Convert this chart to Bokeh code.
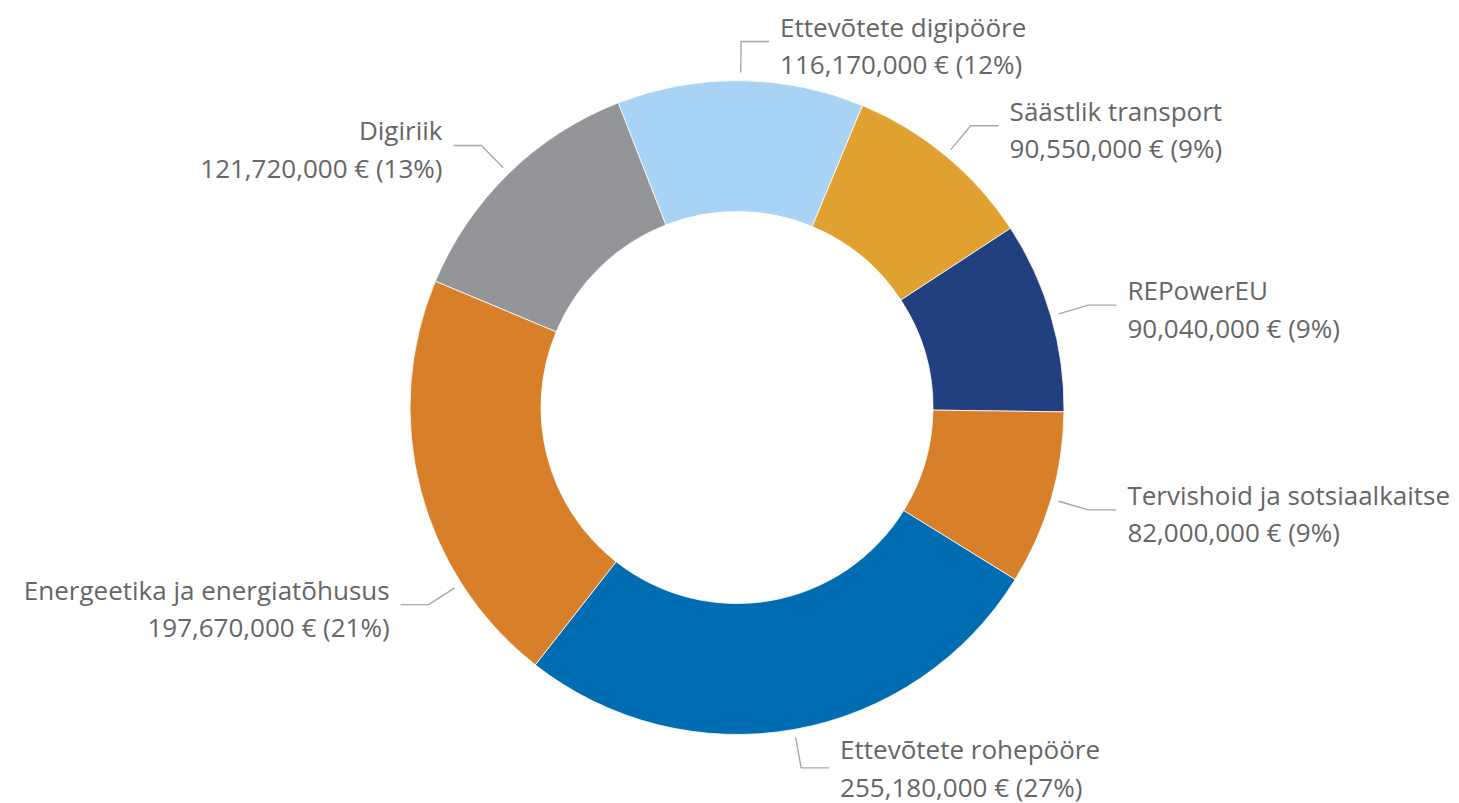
import math
from bokeh.plotting import figure
from bokeh.models import Range1d, ColumnDataSource
from bokeh.embed import file_html
from bokeh.resources import INLINE
from bokeh.core.properties import value

# ---------------- data ----------------
categories = [
    "Ettevõtete digipööre",
    "Säästlik transport",
    "REPowerEU",
    "Tervishoid ja sotsiaalkaitse",
    "Ettevõtete rohepööre",
    "Energeetika ja energiatõhusus",
    "Digiriik",
]
amounts_eur = [116170000, 90550000, 90040000, 82000000, 255180000, 197670000, 121720000]
colors = ["#A9D3F4", "#E1A130", "#223F80", "#D77F29", "#006DB3", "#D77F29", "#939598"]

# ---------------- layout ----------------
W, H = 1459, 803
CX, CY = 736.5, 396.0
R_OUT, R_IN = 327, 196
START_DEG = -21.3            # clockwise from 12 o'clock
R_LEAD0, R_ELBOW = 335, 366
SEG, GAP = 28, 11
LINE1_DY, LINE2_DY = 15, -22.5   # text line centres relative to elbow (data units)
TEXT_Y_MIN = 17                  # lowest allowed second-line centre (data units)
label_angle_shift = {"Energeetika ja energiatõhusus": -18.0}
FONT = "Open Sans"
FONT_SIZE = "26px"
TEXT_COLOR = "#666666"
LEADER_COLOR = "#A8A8A8"

total = float(sum(amounts_eur))

p = figure(width=W, height=H, x_range=Range1d(0, W), y_range=Range1d(0, H),
           output_backend="svg", toolbar_location=None, min_border=0,
           x_axis_type=None, y_axis_type=None)
p.grid.visible = False
p.outline_line_color = None
p.background_fill_color = "white"

starts, ends = [], []
cum = 0.0
for v in amounts_eur:
    a0 = START_DEG + 360.0 * cum / total
    cum += v
    a1 = START_DEG + 360.0 * cum / total
    starts.append(math.radians(90 - a0))
    ends.append(math.radians(90 - a1))

wsrc = ColumnDataSource(dict(x=[CX] * len(categories), y=[CY] * len(categories),
                             start=starts, end=ends, color=colors))
p.annular_wedge(x="x", y="y", inner_radius=R_IN, outer_radius=R_OUT,
                start_angle="start", end_angle="end", direction="clock",
                fill_color="color", line_color="white", line_width=0.8, source=wsrc)

# labels
xs, ys = [], []
tx, ty1, ty2, t1, t2, al = [], [], [], [], [], []
cum = 0.0
for name, v in zip(categories, amounts_eur):
    mid = START_DEG + 360.0 * (cum + v / 2.0) / total
    cum += v
    th = math.radians(mid + label_angle_shift.get(name, 0.0))
    sx, cy_ = math.sin(th), math.cos(th)
    x0, y0 = CX + R_LEAD0 * sx, CY + R_LEAD0 * cy_
    xe, ye = CX + R_ELBOW * sx, CY + R_ELBOW * cy_
    right = sx >= 0
    xh = xe + SEG if right else xe - SEG
    xs.append([x0, xe, xh])
    ys.append([y0, ye, ye])
    tx.append(xh + GAP if right else xh - GAP)
    shift = max(0.0, TEXT_Y_MIN - (ye + LINE2_DY))
    ty1.append(ye + LINE1_DY + shift)
    ty2.append(ye + LINE2_DY + shift)
    pct = round(100.0 * v / total)
    t1.append(name)
    t2.append(f"{v:,} € ({pct}%)")
    al.append("left" if right else "right")

p.multi_line(xs=xs, ys=ys, line_color=LEADER_COLOR, line_width=1.4)
lsrc = ColumnDataSource(dict(x=tx, y1=ty1, y2=ty2, t1=t1, t2=t2, al=al))
for yk, tk in (("y1", "t1"), ("y2", "t2")):
    p.text(x="x", y=yk, text=tk, text_align="al", text_baseline="middle",
           text_font=value(FONT), text_font_size=FONT_SIZE, text_color=TEXT_COLOR,
           source=lsrc)

open("out.html", "w").write(file_html(p, INLINE))
